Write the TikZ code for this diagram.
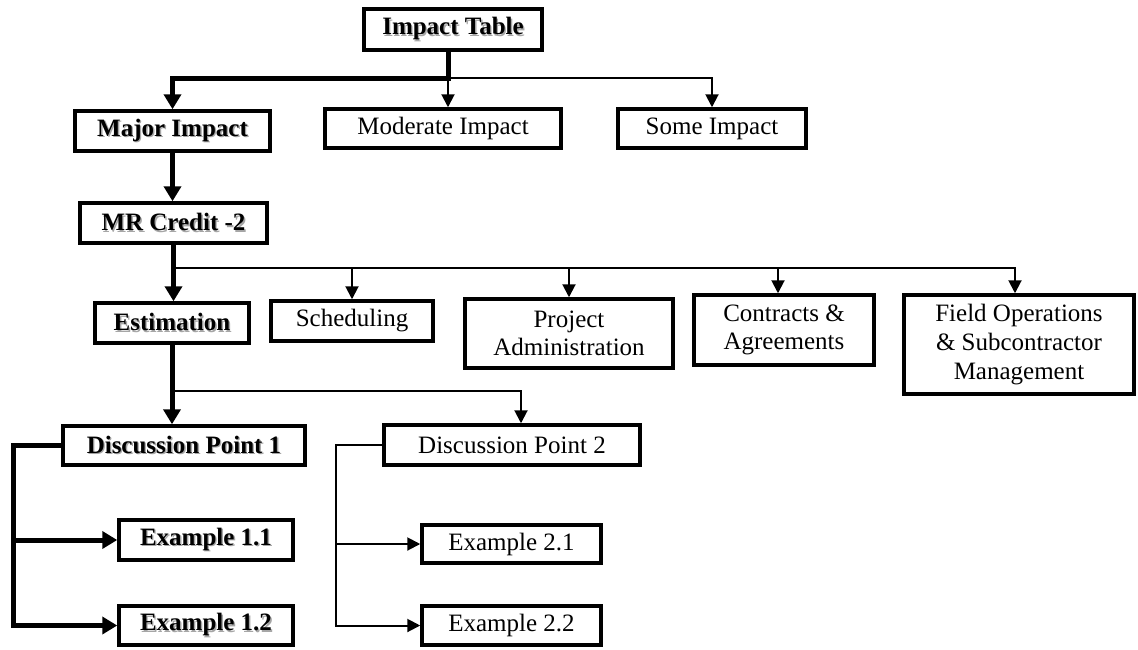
\documentclass[tikz,border=0pt]{standalone}
\usepackage{fontspec}
\setmainfont{Liberation Serif}
\usetikzlibrary{arrows.meta}
% bold text with a grey shadow
\newcommand{\shbf}[1]{\makebox[0pt][l]{\hspace{1.4pt}\raisebox{-1.4pt}{\color{black!35}\bfseries #1}}{\bfseries #1}}
\begin{document}
\begin{tikzpicture}[x=1pt,y=-1pt,
	box/.style={draw,line width=3.5pt,fill=white,inner sep=0pt,align=center,font=\fontsize{25}{28.6}\selectfont},
	thk/.style={line width=5pt,-{Triangle[width=17pt,length=15pt]}},
	thn/.style={line width=2pt,-{Triangle[width=13pt,length=13pt]}}]
				\useasboundingbox (0,0) rectangle (1138,649);
				\node[box,line width=4.5pt,minimum width=178pt,minimum height=41pt] (IT) at (453,29.5) {\shbf{Impact Table}};
				\node[box,minimum width=195pt,minimum height=40pt] (MJ) at (172.5,131) {\shbf{Major Impact}};
				\node[box,minimum width=236pt,minimum height=39pt] (MO) at (443,128.5) {Moderate Impact};
				\node[box,minimum width=188pt,minimum height=39pt] (SO) at (712,128.5) {Some Impact};
				\node[box,minimum width=187pt,minimum height=40pt] (MR) at (173.5,223) {\shbf{MR Credit -2}};
				\node[box,minimum width=154pt,minimum height=40pt] (ES) at (172,323) {\shbf{Estimation}};
				\node[box,minimum width=162pt,minimum height=40pt] (SC) at (352,321) {Scheduling};
				\node[box,minimum width=208pt,minimum height=69pt] (PA) at (569,333.5) {Project\\Administration};
				\node[box,minimum width=180pt,minimum height=70pt] (CA) at (784,330) {Contracts \&\\Agreements};
				\node[box,minimum width=230pt,minimum height=99pt] (FO) at (1019,344.5) {Field Operations\\\& Subcontractor\\Management};
				\node[box,minimum width=242pt,minimum height=39pt] (D1) at (184,445.5) {\shbf{Discussion Point 1}};
				\node[box,minimum width=256pt,minimum height=40pt] (D2) at (512,445) {Discussion Point 2};
				\node[box,minimum width=174pt,minimum height=40pt] (E11) at (206,540) {\shbf{Example 1.1}};
				\node[box,minimum width=174pt,minimum height=39pt] (E12) at (206,625.5) {\shbf{Example 1.2}};
				\node[box,minimum width=179pt,minimum height=38pt] (E21) at (511.5,544) {Example 2.1};
				\node[box,minimum width=179pt,minimum height=39pt] (E22) at (511.5,625.5) {Example 2.2};
				% branch points
				\coordinate (J1) at (448,78);
				\coordinate (J2) at (173,268);
				\coordinate (J3) at (173,391);
				\coordinate (L1) at (13,445.5);
				\coordinate (L2) at (336,445);
				\draw[thk] (J1 |- IT.south) -- (J1) -| (MJ.north);
				\draw[thn] (J1) -- (J1 |- MO.north);
				\draw[thn] (J1) -| (SO.north);
				\draw[thk] (MJ.south) -- (MJ.south |- MR.north);
				\draw[thk] (MR.south) -- (MR.south |- ES.north);
				\draw[thn] (J2) -| (SC.north);
				\draw[thn] (J2) -| (PA.north);
				\draw[thn] (J2) -| ([xshift=-6pt]CA.north);
				\draw[thn] (J2) -| ([xshift=-4pt]FO.north);
				\draw[thk] (ES.south) -- (ES.south |- D1.north);
				\draw[thn] (J3) -| ([xshift=9pt]D2.north);
				\draw[thk] (D1.west) -- (L1) |- (E11.west);
				\draw[thk] (L1) |- (E12.west);
				\draw[thn] (D2.west) -- (L2) |- (E21.west);
				\draw[thn] (L2) |- (E22.west);
				\end{tikzpicture}
\end{document}
